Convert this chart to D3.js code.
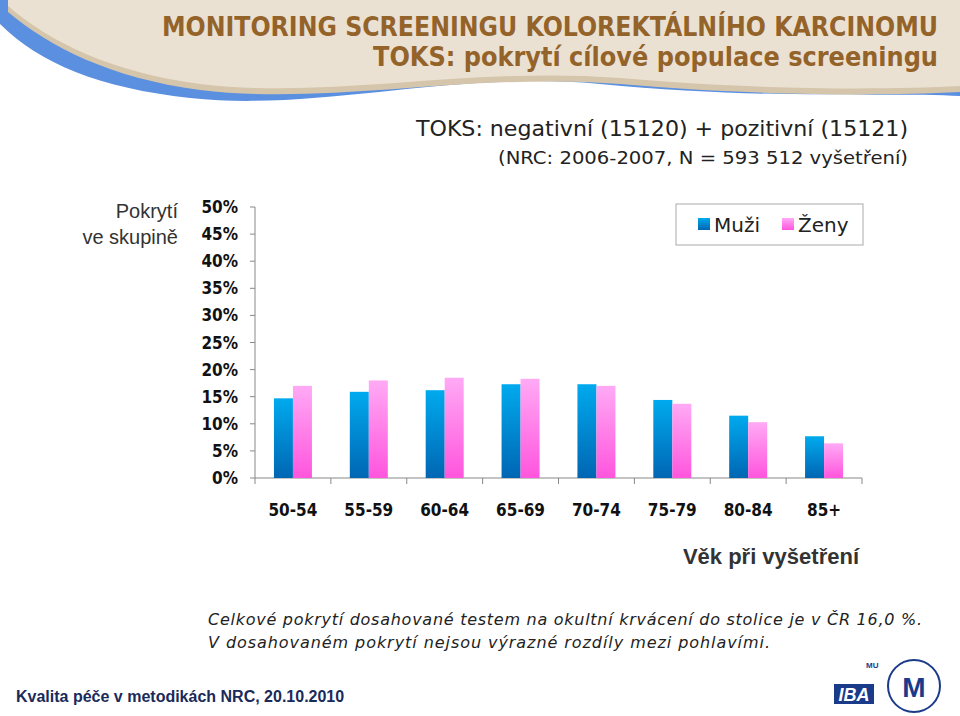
<!DOCTYPE html>
<html><head><meta charset="utf-8">
<script src="https://d3js.org/d3.v7.min.js"></script>
<style>body{margin:0;background:#fff}</style></head>
<body><svg id="c" width="960" height="716"></svg>
<script>
const categories=["50-54","55-59","60-64","65-69","70-74","75-79","80-84","85+"];
const muzi=[14.7,15.9,16.2,17.3,17.3,14.4,11.5,7.7];
const zeny=[17.0,18.0,18.5,18.3,17.0,13.7,10.3,6.4];
const yTicks=[0,5,10,15,20,25,30,35,40,45,50];
const svg=d3.select("#c");
const defs=svg.append("defs");
function grad(id,top,bot){const g=defs.append("linearGradient").attr("id",id).attr("x1",0).attr("x2",0).attr("y1",0).attr("y2",1);
g.append("stop").attr("offset","0%").attr("stop-color",top);g.append("stop").attr("offset","100%").attr("stop-color",bot);}
grad("gm","#00aaee","#0066b3");grad("gz","#ffaaf5","#ff55dd");
// header
svg.append("path").attr("d","M0,0 H960 V96 C900,92 760,100 600,84 C450,70 320,112 190,98 C100,88 40,64 0,24 Z").attr("fill","#5b8fe0");
svg.append("path").attr("d","M8,0 H960 V92 C880,96 760,96 620,84 C470,72 330,106 200,90 C110,78 50,47 8,12 Z").attr("fill","#d4c5ab");
svg.append("path").attr("d","M8,0 H960 V86 C880,90 760,90 620,78 C470,66 330,100 200,84 C110,72 50,42 8,6 Z").attr("fill","#ebe1d3");
const hf="DejaVu Sans Condensed";
svg.append("text").attr("x",938).attr("y",36).attr("text-anchor","end").attr("font-family",hf).attr("font-stretch","condensed").attr("font-weight","bold").attr("font-size",26).attr("fill","#94632a").attr("textLength",776).attr("lengthAdjust","spacingAndGlyphs").text("MONITORING SCREENINGU KOLOREKTÁLNÍHO KARCINOMU");
svg.append("text").attr("x",938).attr("y",66).attr("text-anchor","end").attr("font-family",hf).attr("font-stretch","condensed").attr("font-weight","bold").attr("font-size",27).attr("fill","#94632a").attr("textLength",565).attr("lengthAdjust","spacingAndGlyphs").text("TOKS: pokrytí cílové populace screeningu");
// subtitle
svg.append("text").attr("x",908).attr("y",136).attr("text-anchor","end").attr("font-family",hf).attr("font-stretch","condensed").attr("font-size",21).attr("fill","#222").attr("textLength",492).attr("lengthAdjust","spacingAndGlyphs").text("TOKS: negativní (15120) + pozitivní (15121)");
svg.append("text").attr("x",908).attr("y",164).attr("text-anchor","end").attr("font-family",hf).attr("font-stretch","condensed").attr("font-size",17).attr("fill","#222").attr("textLength",410).attr("lengthAdjust","spacingAndGlyphs").text("(NRC: 2006-2007, N = 593 512 vyšetření)");
// chart
const x=d3.scaleBand().domain(categories).range([255,862]).padding(0);
const y=d3.scaleLinear().domain([0,50]).range([478,207]);
const bw=19;
const g=svg.append("g");
g.append("line").attr("x1",255).attr("x2",255).attr("y1",207).attr("y2",478).attr("stroke","#888");
g.selectAll(".yt").data(yTicks).join("line").attr("x1",250).attr("x2",255).attr("y1",d=>y(d)).attr("y2",d=>y(d)).attr("stroke","#888");
g.selectAll(".yl").data(yTicks).join("text").attr("x",238).attr("y",d=>y(d)+6).attr("text-anchor","end").attr("font-family",hf).attr("font-stretch","condensed").attr("font-weight","bold").attr("font-size",17).attr("fill","#111").text(d=>d+"%");
g.append("line").attr("x1",255).attr("x2",862).attr("y1",478).attr("y2",478).attr("stroke","#888");
g.selectAll(".xt").data(categories.map((c,i)=>i).concat([8])).join("line").attr("x1",i=>255+i*x.bandwidth()).attr("x2",i=>255+i*x.bandwidth()).attr("y1",478).attr("y2",484).attr("stroke","#888");
g.selectAll(".mb").data(muzi).join("rect").attr("x",(d,i)=>x(categories[i])+x.bandwidth()/2-bw).attr("width",bw).attr("y",d=>y(d)).attr("height",d=>478-y(d)).attr("fill","url(#gm)");
g.selectAll(".zb").data(zeny).join("rect").attr("x",(d,i)=>x(categories[i])+x.bandwidth()/2).attr("width",bw).attr("y",d=>y(d)).attr("height",d=>478-y(d)).attr("fill","url(#gz)");
g.selectAll(".xl").data(categories).join("text").attr("x",d=>x(d)+x.bandwidth()/2).attr("y",516).attr("text-anchor","middle").attr("font-family",hf).attr("font-stretch","condensed").attr("font-weight","bold").attr("font-size",17).attr("fill","#111").text(d=>d);
svg.append("text").attr("x",178).attr("y",218).attr("text-anchor","end").attr("font-family","Liberation Sans").attr("font-size",20).attr("fill","#333").text("Pokrytí");
svg.append("text").attr("x",178).attr("y",244).attr("text-anchor","end").attr("font-family","Liberation Sans").attr("font-size",20).attr("fill","#333").text("ve skupině");
svg.append("text").attr("x",859).attr("y",564).attr("text-anchor","end").attr("font-family","Liberation Sans").attr("font-weight","bold").attr("font-size",22).attr("fill","#333").text("Věk při vyšetření");
// legend
svg.append("rect").attr("x",676).attr("y",204).attr("width",187).attr("height",41).attr("fill","#fff").attr("stroke","#aaa");
const lg=[["Muži","url(#gm)",698],["Ženy","url(#gz)",782]];
lg.forEach(([t,f,lx])=>{svg.append("rect").attr("x",lx).attr("y",218).attr("width",12).attr("height",12).attr("fill",f);
svg.append("text").attr("x",lx+16).attr("y",232).attr("font-family","DejaVu Sans").attr("font-size",20).attr("fill","#222").text(t);});
// notes
svg.append("text").attr("x",208).attr("y",625).attr("font-family","DejaVu Sans").attr("font-style","italic").attr("font-size",16).attr("fill","#222").attr("textLength",714).text("Celkové pokrytí dosahované testem na okultní krvácení do stolice je v ČR 16,0 %.");
svg.append("text").attr("x",208).attr("y",648).attr("font-family","DejaVu Sans").attr("font-style","italic").attr("font-size",16).attr("fill","#222").attr("textLength",562).text("V dosahovaném pokrytí nejsou výrazné rozdíly mezi pohlavími.");
svg.append("text").attr("x",16).attr("y",702).attr("font-family","Liberation Sans").attr("font-weight","bold").attr("font-size",16).attr("fill","#1a2a5a").text("Kvalita péče v metodikách NRC, 20.10.2010");
// logos
svg.append("rect").attr("x",834).attr("y",684).attr("width",40).attr("height",20).attr("fill","#1a3a8a");
svg.append("text").attr("x",854).attr("y",701).attr("text-anchor","middle").attr("font-family","Liberation Sans").attr("font-weight","bold").attr("font-style","italic").attr("font-size",18).attr("fill","#fff").text("IBA");
svg.append("text").attr("x",866).attr("y",668).attr("font-family","Liberation Sans").attr("font-weight","bold").attr("font-size",8).attr("fill","#1a3a8a").text("MU");
svg.append("circle").attr("cx",914).attr("cy",686).attr("r",26).attr("fill","#fff").attr("stroke","#1a3a8a").attr("stroke-width",2);
svg.append("text").attr("x",914).attr("y",697).attr("text-anchor","middle").attr("font-family","Liberation Sans").attr("font-weight","bold").attr("font-size",28).attr("fill","#1a3a8a").text("M");
</script></body></html>
